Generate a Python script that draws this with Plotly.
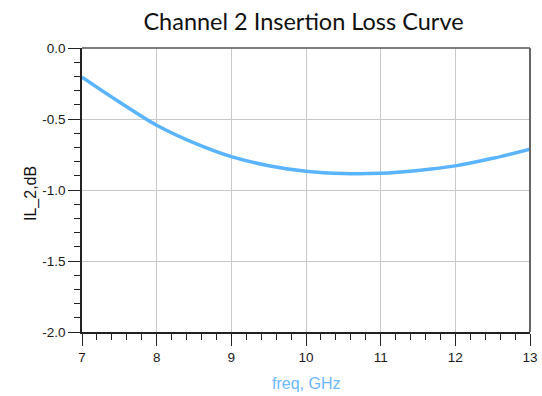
import plotly.graph_objects as go

freq_ghz = [7.0, 7.5, 8.0, 8.5, 9.0, 9.5, 10.0, 10.5, 11.0, 11.5, 12.0, 12.5, 13.0]
il_2_db = [-0.205, -0.380, -0.544, -0.668, -0.765, -0.829, -0.868, -0.884, -0.882, -0.862, -0.830, -0.777, -0.712]

x_tick_vals = [7, 8, 9, 10, 11, 12, 13]
x_tick_labels = ["7", "8", "9", "10", "11", "12", "13"]
y_tick_vals = [-2.0, -1.5, -1.0, -0.5, 0.0]
y_tick_labels = ["-2.0", "-1.5", "-1.0", "-0.5", "0.0"]

title_text = "Channel 2 Insertion Loss Curve"
x_title = "freq, GHz"
y_title = "IL_2,dB"

fig = go.Figure()
fig.add_trace(go.Scatter(
    x=freq_ghz, y=il_2_db, mode="lines",
    line=dict(color="#5AB4FF", width=3.5, shape="spline", smoothing=1.0),
    showlegend=False, hoverinfo="skip",
))

axis_common = dict(
    showline=True, linecolor="#222222", linewidth=1.5,
    ticks="outside", ticklen=12, tickwidth=1.3, tickcolor="#222222",
    showgrid=True, gridcolor="#C8C8C8", gridwidth=1,
    zeroline=False, mirror=False, automargin=False,
    tickfont=dict(family="Liberation Sans, Arial", size=13.5, color="#1A1A1A"),
)

fig.update_xaxes(
    range=[7, 13], tickvals=x_tick_vals, ticktext=x_tick_labels,
    minor=dict(dtick=0.2, tick0=7, ticks="outside", ticklen=6, tickwidth=1.2, tickcolor="#222222", showgrid=False),
    **axis_common,
)
fig.update_yaxes(
    range=[-2.0, 0.0], tickvals=y_tick_vals, ticktext=y_tick_labels,
    minor=dict(dtick=0.1, tick0=0, ticks="outside", ticklen=6, tickwidth=1.2, tickcolor="#222222", showgrid=False),
    **axis_common,
)

# top and right frame lines
fig.add_shape(type="line", xref="paper", yref="paper", x0=0, x1=1, y0=1, y1=1,
              line=dict(color="#555555", width=1.5))
fig.add_shape(type="line", xref="paper", yref="paper", x0=1, x1=1, y0=0, y1=1,
              line=dict(color="#666666", width=2))

fig.add_annotation(text=x_title, xref="paper", yref="paper", x=(306 - 82) / 448, y=-(383 - 332) / 284,
                   xanchor="center", yanchor="middle", showarrow=False,
                   font=dict(family="Liberation Sans, Arial", size=16, color="#6BB8FF"))
fig.add_annotation(text=y_title, xref="paper", yref="paper", x=-(82 - 31) / 448, y=(332 - 194) / 284,
                   xanchor="center", yanchor="middle", showarrow=False, textangle=-90,
                   font=dict(family="Liberation Sans, Arial", size=16, color="#111111"))

fig.update_layout(
    width=542, height=396,
    margin=dict(l=82, r=12, t=48, b=64),
    paper_bgcolor="white", plot_bgcolor="white",
    title=dict(text=title_text, x=303.5 / 542, xanchor="center", xref="container",
               y=1 - 22 / 396, yanchor="middle", yref="container",
               font=dict(family="Lato, Open Sans", size=23.5, color="#111111")),
)

fig.write_html("out.html")
